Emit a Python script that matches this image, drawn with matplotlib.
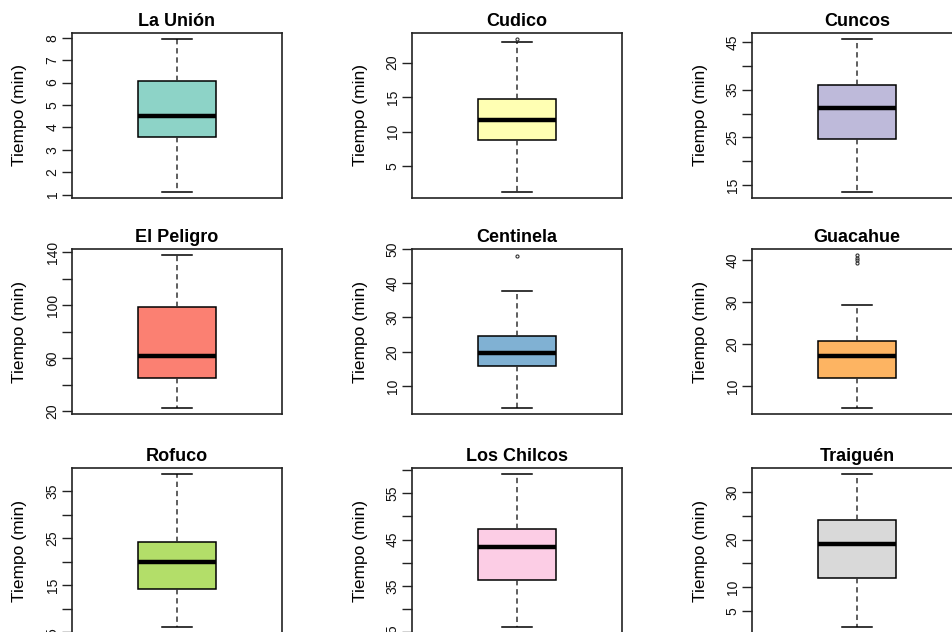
import matplotlib.pyplot as plt

plt.rcParams['font.family'] = ['Liberation Sans', 'DejaVu Sans']

# sites, in reading order
sites = ['La Unión', 'Cudico', 'Cuncos',
         'El Peligro', 'Centinela', 'Guacahue',
         'Rofuco', 'Los Chilcos', 'Traiguén']

# five-number summaries (minutes)
whis_lo = [1.12, 1.25, 13.6, 22.6, 3.6, 4.8, 6.1, 26.2, 1.6]
q1 = [3.58, 8.84, 24.6, 45.3, 15.7, 12.0, 14.1, 36.4, 11.8]
median = [4.50, 11.64, 31.2, 61.8, 19.7, 17.1, 19.8, 43.5, 19.1]
q3 = [6.09, 14.65, 36.0, 98.8, 24.7, 20.7, 24.1, 47.3, 24.2]
whis_hi = [7.94, 22.95, 45.6, 137.7, 37.6, 29.3, 38.6, 59.1, 33.8]
outliers = [[], [23.4], [], [], [48.1], [39.4, 40.0, 40.6, 41.2], [], [], []]

# y ticks and which of them carry a label (R drops the crowded ones)
y_ticks = [
    [1, 2, 3, 4, 5, 6, 7, 8],
    [5, 10, 15, 20],
    [15, 20, 25, 30, 35, 40, 45],
    [20, 40, 60, 80, 100, 120, 140],
    [10, 20, 30, 40, 50],
    [10, 20, 30, 40],
    [5, 10, 15, 20, 25, 30, 35],
    [25, 30, 35, 40, 45, 50, 55, 60],
    [5, 10, 15, 20, 25, 30],
]
y_labels = [
    ['1', '2', '3', '4', '5', '6', '7', '8'],
    ['5', '10', '15', '20'],
    ['15', '', '25', '', '35', '', '45'],
    ['20', '', '60', '', '100', '', '140'],
    ['10', '20', '30', '40', '50'],
    ['10', '20', '30', '40'],
    ['5', '', '15', '', '25', '', '35'],
    ['25', '', '35', '', '45', '', '55', ''],
    ['5', '10', '', '20', '', '30'],
]

# RColorBrewer Set3
colors = ['#8DD3C7', '#FFFFB3', '#BEBADA', '#FB8072', '#80B1D3',
          '#FDB462', '#B3DE69', '#FCCDE5', '#D9D9D9']

W, H = 952, 632
fig = plt.figure(figsize=(W / 100, H / 100), dpi=100)

col_left = [72, 412, 752]
row_top = [33, 249, 468]
ax_w, ax_h = 210, 165

for i, name in enumerate(sites):
    r, c = divmod(i, 3)
    ax = fig.add_axes([col_left[c] / W, 1 - (row_top[r] + ax_h) / H,
                       ax_w / W, ax_h / H])

    stats = [dict(med=median[i], q1=q1[i], q3=q3[i],
                  whislo=whis_lo[i], whishi=whis_hi[i], fliers=outliers[i])]
    ax.bxp(stats, positions=[1], widths=0.37, capwidths=0.14,
           patch_artist=True, manage_ticks=False,
           boxprops=dict(facecolor=colors[i], edgecolor='black', linewidth=1.1),
           medianprops=dict(color='black', linewidth=3.2, solid_capstyle='butt'),
           whiskerprops=dict(color='#333333', linewidth=1.1, linestyle=(0, (3.5, 2.5))),
           capprops=dict(color='black', linewidth=1.1),
           flierprops=dict(marker='o', markersize=2.2, markerfacecolor='none',
                           markeredgecolor='#333333', markeredgewidth=0.8))

    # R style range: data extent plus 4 %
    lo = min([whis_lo[i]] + outliers[i])
    hi = max([whis_hi[i]] + outliers[i])
    pad = 0.04 * (hi - lo)
    ax.set_ylim(lo - pad, hi + pad)
    ax.set_xlim(0.5, 1.5)

    ax.set_yticks(y_ticks[i])
    ax.set_yticklabels(y_labels[i], rotation=90, va='center', ha='right')
    ax.tick_params(axis='y', length=7, width=1.0, pad=2, labelsize=10,
                   color='#222222', labelcolor='#111111')
    ax.set_xticks([])
    for s in ax.spines.values():
        s.set_linewidth(1.2)
        s.set_color('#222222')

    ax.set_title(name, fontsize=13, fontweight='bold', pad=5)
    ax.set_ylabel('Tiempo (min)', fontsize=12.5, va='center')
    ax.yaxis.set_label_coords(-52 / ax_w, 0.5)

fig.savefig('out.png', dpi=100)
